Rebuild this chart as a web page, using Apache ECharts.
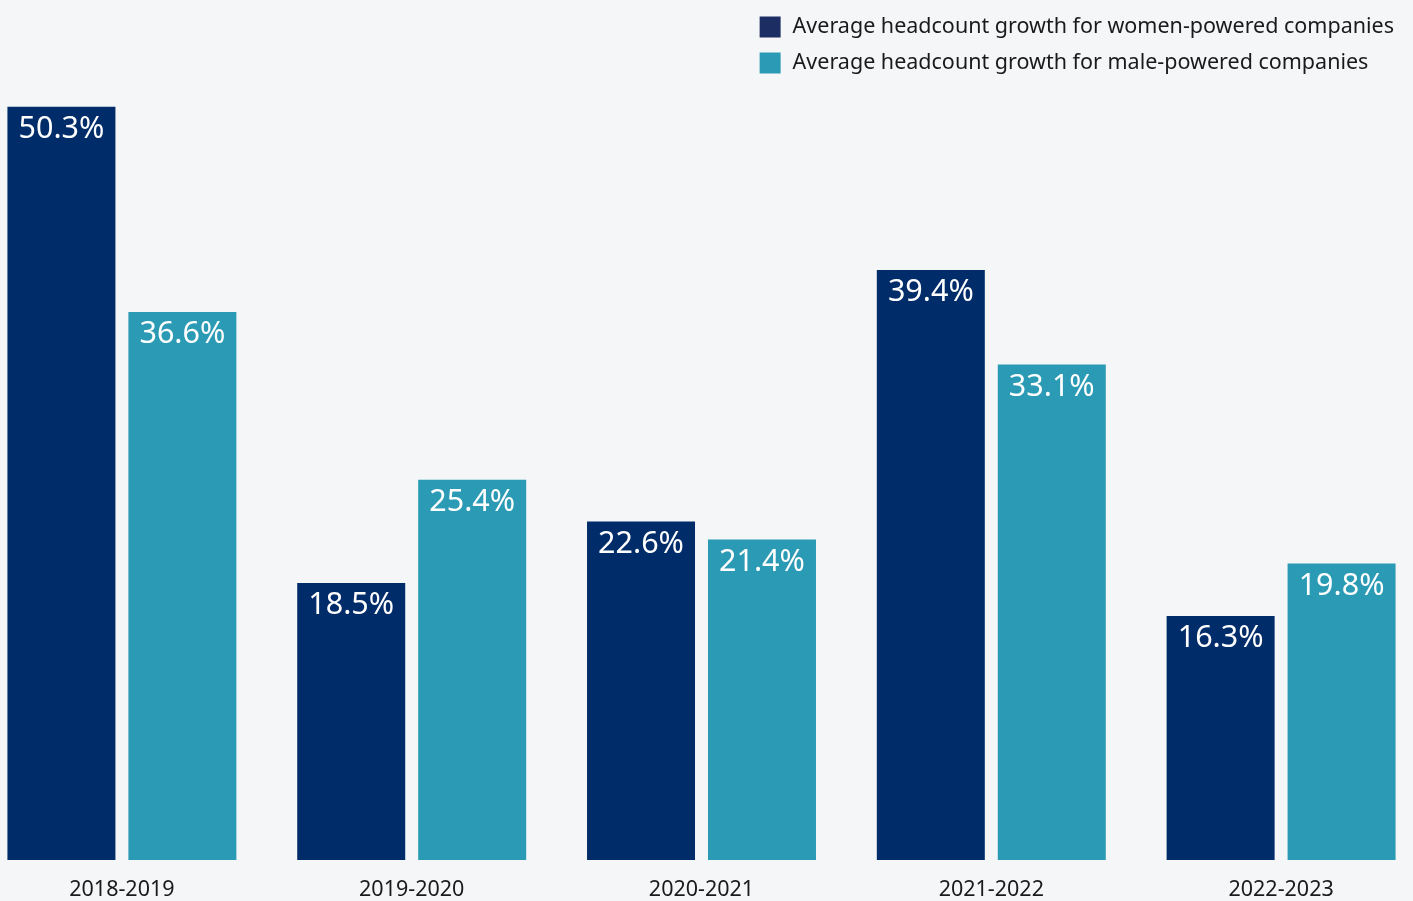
<!DOCTYPE html>
<html>
<head>
<meta charset="utf-8">
<script src="https://cdn.jsdelivr.net/npm/echarts@6/dist/echarts.min.js"></script>
<style>
  html, body { margin: 0; padding: 0; background: #f5f6f8; overflow: hidden; }
  #container { position: absolute; left: -23.5px; top: 0; width: 1449px; height: 901px; }
</style>
</head>
<body>
<div id="container"></div>
<script>
var categories = ['2018-2019', '2019-2020', '2020-2021', '2021-2022', '2022-2023'];
var womenName = 'Average headcount growth for women-powered companies';
var maleName = 'Average headcount growth for male-powered companies';
var womenValues = [50.3, 18.5, 22.6, 39.4, 16.3];
var maleValues = [36.6, 25.4, 21.4, 33.1, 19.8];

var fontName = 'Noto Sans';

// the canvas is wider than the window so the outer bars can sit close to the edges
var dom = document.getElementById("container");
var myChart = echarts.init(dom);
var option = {
  backgroundColor: '#f5f6f8',
  animation: false,
  legend: {
    right: 27,
    top: 11,
    orient: 'vertical',
    itemWidth: 21,
    itemHeight: 21,
    itemGap: 14,
    icon: 'rect',
    textStyle: { fontFamily: fontName, fontSize: 21.5, color: '#1a1a1a', padding: [0, 0, 0, 7] },
    data: [
      { name: womenName, itemStyle: { color: '#1c2d64' } },
      { name: maleName }
    ]
  },
  grid: {
    left: 0,
    right: 0,
    top: 36.5,
    bottom: 38
  },
  xAxis: {
    type: 'category',
    data: categories,
    axisLine: { show: false },
    axisTick: { show: false },
    axisLabel: { fontFamily: fontName, fontSize: 21.5, color: '#1a1a1a', margin: 19 }
  },
  yAxis: {
    type: 'value',
    min: 0,
    max: 55,
    show: false,
    splitLine: { show: false }
  },
  series: [
    {
      name: womenName,
      type: 'bar',
      data: womenValues,
      barWidth: 108,
      barGap: '12%',
      itemStyle: { color: '#002d6a' },
      label: {
        show: true,
        position: 'insideTop',
        distance: 7,
        formatter: '{c}%',
        fontFamily: fontName,
        fontSize: 30.5,
        color: '#ffffff'
      }
    },
    {
      name: maleName,
      type: 'bar',
      data: maleValues,
      barWidth: 108,
      itemStyle: { color: '#2b9ab4' },
      label: {
        show: true,
        position: 'insideTop',
        distance: 7,
        formatter: '{c}%',
        fontFamily: fontName,
        fontSize: 30.5,
        color: '#ffffff'
      }
    }
  ]
};
myChart.setOption(option, true);
</script>
</body>
</html>
